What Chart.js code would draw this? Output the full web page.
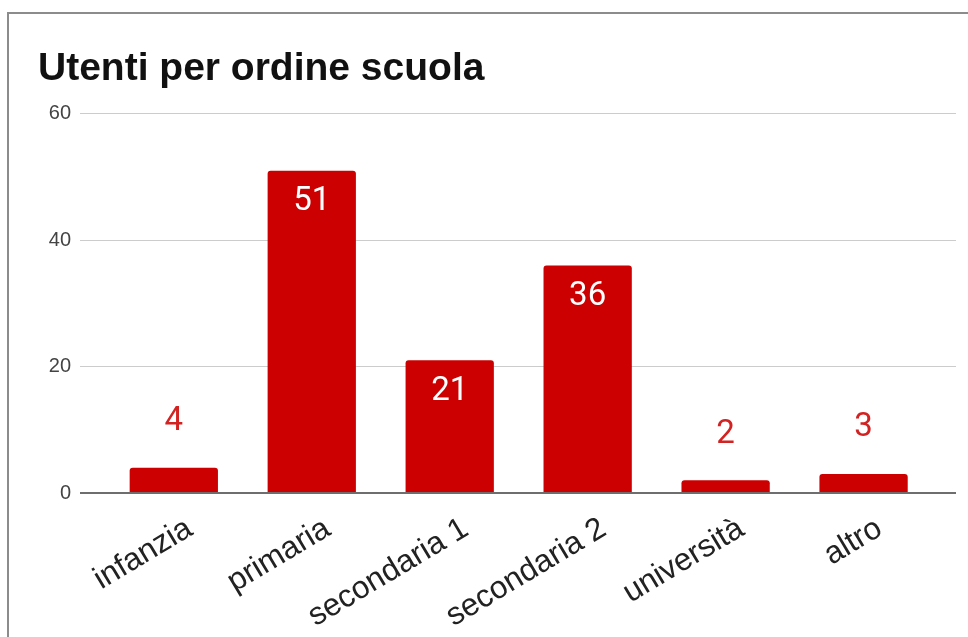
<!DOCTYPE html>
<html>
<head>
<meta charset="utf-8">
<script src="https://cdn.jsdelivr.net/npm/chart.js@4/dist/chart.umd.min.js"></script>
<style>
  html, body { margin: 0; padding: 0; background: #fff; }
  #wrap { position: relative; width: 968px; height: 637px; }
  #frame {
    position: absolute; left: 7px; top: 12px; right: 0; bottom: 0;
    border-left: 2px solid #8c8c8c; border-top: 2px solid #8c8c8c;
    pointer-events: none;
  }
</style>
</head>
<body>
<div id="wrap">
  <canvas id="chart" width="968" height="637"></canvas>
  <div id="frame"></div>
</div>
<script>
const title = "Utenti per ordine scuola";
const categories = ["infanzia", "primaria", "secondaria 1", "secondaria 2", "università", "altro"];
const values = [4, 51, 21, 36, 2, 3];
const yTicks = [0, 20, 40, 60];

const red = "#cc0000";

// value labels: white inside tall bars, red above short ones
const valueLabels = {
  id: "valueLabels",
  afterDatasetsDraw(chart) {
    const ctx = chart.ctx;
    const meta = chart.getDatasetMeta(0);
    ctx.save();
    ctx.font = "33px Roboto";
    ctx.textAlign = "center";
    ctx.textBaseline = "middle";
    meta.data.forEach((bar, i) => {
      const h = bar.base - bar.y;
      if (h > 60) {
        ctx.fillStyle = "#ffffff";
        ctx.fillText(String(values[i]), bar.x, bar.y + 31);
      } else {
        ctx.fillStyle = "#d32222";
        ctx.fillText(String(values[i]), bar.x, bar.y - 46);
      }
    });
    ctx.restore();
  }
};

new Chart(document.getElementById("chart"), {
  type: "bar",
  data: {
    datasets: [{
      data: values.map((v, i) => ({ x: i, y: v })),
      backgroundColor: red,
      borderRadius: { topLeft: 3, topRight: 3 },
      borderSkipped: "bottom",
      barPercentage: 0.64,
      categoryPercentage: 1
    }]
  },
  options: {
    responsive: false,
    animation: false,
    layout: { padding: { left: 38, right: 12, top: 0, bottom: 0 } },
    plugins: {
      legend: { display: false },
      tooltip: { enabled: false },
      title: {
        display: true,
        text: title,
        align: "start",
        color: "#111",
        font: { family: "Liberation Sans", size: 39, weight: "bold" },
        padding: { top: 46, bottom: 21 }
      }
    },
    scales: {
      x: {
        type: "linear",
        offset: false,
        min: -0.68,
        max: 5.67,
        grid: { display: false },
        border: { display: false },
        afterBuildTicks: (axis) => { axis.ticks = categories.map((_, i) => ({ value: i })); },
        afterFit: (axis) => { axis.height = 144; },
        ticks: {
          autoSkip: false,
          maxRotation: 31,
          minRotation: 31,
          padding: 9,
          labelOffset: 16,
          color: "#222",
          font: { family: "Liberation Sans", size: 31.5 },
          callback: (v) => categories[v]
        }
      },
      y: {
        min: 0,
        max: 60,
        afterBuildTicks: (axis) => { axis.ticks = yTicks.map((v) => ({ value: v })); },
        afterFit: (axis) => { axis.width = 42; },
        border: { display: false },
        grid: {
          drawTicks: false,
          color: (c) => (c.tick && c.tick.value === 0 ? "#6e6e6e" : "#cccccc"),
          lineWidth: (c) => (c.tick && c.tick.value === 0 ? 2 : 1)
        },
        ticks: {
          padding: 9,
          color: "#444",
          font: { family: "Liberation Sans", size: 20 }
        }
      }
    }
  },
  plugins: [valueLabels]
});
</script>
</body>
</html>
